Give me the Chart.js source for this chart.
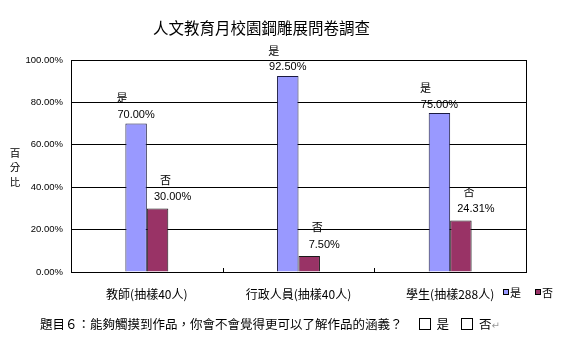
<!DOCTYPE html>
<html><head><meta charset="utf-8">
<script src="https://cdn.jsdelivr.net/npm/chart.js@4"></script>
<style>
html,body{margin:0;padding:0;background:#fff;}
#wrap{position:relative;width:565px;height:357px;overflow:hidden;}
canvas{position:absolute;left:0;top:0;}
#title{position:absolute;left:153px;top:16px;font:15.5px "Noto Sans CJK TC",sans-serif;color:#000;white-space:nowrap;line-height:22px;}
#question{position:absolute;left:40px;top:314px;font:12.5px "Noto Sans CJK TC",sans-serif;color:#000;white-space:nowrap;line-height:20px;}
#question .box{display:inline-block;width:10px;height:10px;border:1.5px solid #000;vertical-align:-1px;margin:0 6px 0 0;}
#question .b1{margin-left:16px;}
#question .b2{margin-left:12px;}
#question .ret{color:#999;font:10px "DejaVu Sans",sans-serif;}
</style></head>
<body><div id="wrap"><canvas id="c" width="565" height="357"></canvas>
<div id="title"></div><div id="question"></div></div>
<script>
const chartTitle = '人文教育月校園鋼雕展問卷調查';
const questionText = '題目６：能夠觸摸到作品，你會不會覺得更可以了解作品的涵義？';
const categories = ['教師(抽樣40人)', '行政人員(抽樣40人)', '學生(抽樣288人)'];
const seriesNames = ['是', '否'];
const yesValues = [70.00, 92.50, 75.00];
const noValues = [30.00, 7.50, 24.31];
const yTicks = [0, 20, 40, 60, 80, 100];
const yAxisTitle = ['百', '分', '比'];
const colors = ['#9999FF', '#993366'];

document.getElementById('title').textContent = chartTitle;
const q = document.getElementById('question');
q.appendChild(document.createTextNode(questionText));
seriesNames.forEach((n, i) => {
  const b = document.createElement('span'); b.className = 'box b' + (i + 1); q.appendChild(b);
  q.appendChild(document.createTextNode(n));
});
const ret = document.createElement('span'); ret.className = 'ret'; ret.textContent = '↵'; q.appendChild(ret);

const labelCfg = [
  {vdx: 0, vdy: 8.5, ndx: -14, ndy: 17},
  {vdx: 15, vdy: 11, ndx: -7, ndy: 18}
];

const decorPlugin = {
  id: 'decor',
  afterDraw(chart) {
    const ctx = chart.ctx, a = chart.chartArea, xs = chart.scales.x;
    ctx.save();
    ctx.strokeStyle = '#000'; ctx.lineWidth = 1;
    ctx.strokeRect(Math.round(a.left) + 0.5, Math.round(a.top) + 0.5, Math.round(a.right - a.left), Math.round(a.bottom - a.top));
    for (let i = 0; i < categories.length - 1; i++) {
      const x = Math.round((xs.getPixelForValue(i) + xs.getPixelForValue(i + 1)) / 2) + 0.5;
      ctx.beginPath(); ctx.moveTo(x, a.bottom); ctx.lineTo(x, a.bottom - 4); ctx.stroke();
    }
    ctx.fillStyle = '#000'; ctx.textAlign = 'center'; ctx.textBaseline = 'middle';
    chart.data.datasets.forEach((ds, di) => {
      const meta = chart.getDatasetMeta(di);
      const c = labelCfg[di];
      meta.data.forEach((bar, i) => {
        const vx = bar.x + c.vdx, vy = bar.y - c.vdy;
        ctx.font = '11px "Liberation Sans", Arial, sans-serif';
        ctx.fillText(ds.data[i].toFixed(2) + '%', vx, vy);
        ctx.font = '11px "Noto Sans CJK TC", sans-serif';
        ctx.fillText(ds.label, vx + c.ndx, vy - c.ndy);
      });
    });
    ctx.font = '10.5px "Noto Sans CJK TC", sans-serif';
    yAxisTitle.forEach((ch, i) => ctx.fillText(ch, 15, 153 + i * 14.3));
    ctx.textAlign = 'left';
    const lx = [503, 535];
    chart.data.datasets.forEach((ds, di) => {
      ctx.fillStyle = ds.backgroundColor;
      ctx.fillRect(lx[di] + 0.5, 289.5, 5, 5);
      ctx.strokeStyle = '#000'; ctx.strokeRect(lx[di] + 0.5, 289.5, 5, 5);
      ctx.fillStyle = '#000';
      ctx.font = '11px "Noto Sans CJK TC", sans-serif';
      ctx.fillText(ds.label, lx[di] + 7, 293);
    });
    ctx.restore();
  }
};

new Chart(document.getElementById('c'), {
  type: 'bar',
  data: {
    labels: categories,
    datasets: [
      {label: seriesNames[0], data: yesValues, backgroundColor: colors[0], borderColor: '#1a1a40', borderWidth: 1, borderSkipped: 'bottom'},
      {label: seriesNames[1], data: noValues, backgroundColor: colors[1], borderColor: '#1a1a1a', borderWidth: 1, borderSkipped: 'bottom'}
    ]
  },
  options: {
    responsive: false,
    animation: false,
    devicePixelRatio: 1,
    layout: {padding: {top: 60, right: 39, left: 0, bottom: 0}},
    plugins: {legend: {display: false}, title: {display: false}, tooltip: {enabled: false}},
    datasets: {bar: {barPercentage: 1, categoryPercentage: 0.283}},
    scales: {
      x: {
        grid: {display: false, drawTicks: false},
        border: {display: true, color: '#000'},
        ticks: {padding: 15, color: '#000', font: {family: '"Noto Sans CJK TC", sans-serif', size: 12}, maxRotation: 0},
        afterFit(s) { s.height = 85; }
      },
      y: {
        min: 0, max: 100,
        afterBuildTicks(s) { s.ticks = yTicks.map(v => ({value: v})); },
        grid: {color: '#000', drawTicks: false},
        border: {display: true, color: '#000'},
        ticks: {padding: 8, color: '#000', font: {family: '"Liberation Sans", Arial, sans-serif', size: 9.5}, callback: v => v.toFixed(2) + '%'},
        afterFit(s) { s.width = 71; }
      }
    }
  },
  plugins: [decorPlugin]
});
</script></body></html>
